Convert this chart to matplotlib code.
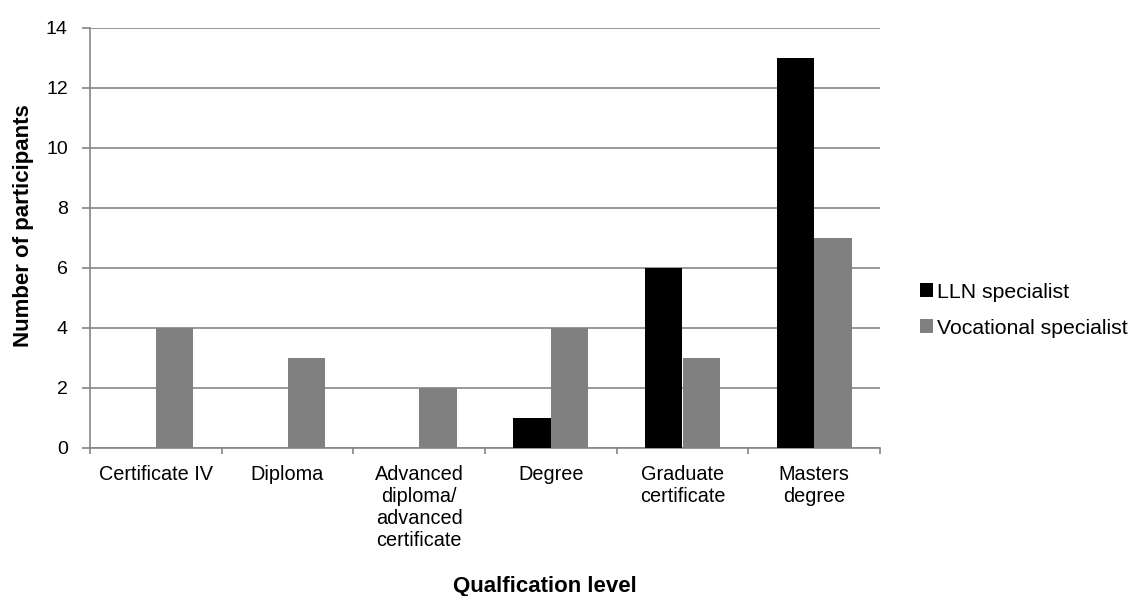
import numpy as np
import matplotlib
matplotlib.use("Agg")
import matplotlib.pyplot as plt

categories = ["Certificate IV", "Diploma", "Advanced\ndiploma/\nadvanced\ncertificate",
              "Degree", "Graduate\ncertificate", "Masters\ndegree"]
lln = [0, 0, 0, 1, 6, 13]
vocational = [4, 3, 2, 4, 3, 7]
series_names = ["LLN specialist", "Vocational specialist"]

plt.rcParams['font.family'] = ['Liberation Sans', 'DejaVu Sans']
axis_grey = "#868686"

fig = plt.figure(figsize=(11.32, 5.96), dpi=100)
fig.subplots_adjust(left=90/1132, right=880/1132, top=1-28/596, bottom=1-448/596)
ax = fig.add_subplot(111)

x = np.arange(len(categories))
w = 1 / 3.5
ax.bar(x - w/2, lln, w, color="#000000", label=series_names[0], zorder=3)
ax.bar(x + w/2, vocational, w, color="#808080", label=series_names[1], zorder=3)

ax.set_xlim(-0.5, len(categories) - 0.5)
ax.set_ylim(0, 14)
ax.set_yticks(range(0, 15, 2))
ax.yaxis.grid(True, color=axis_grey, linewidth=1.2, zorder=0)

ax.set_xticks(x)
ax.set_xticklabels(categories, fontsize=14.3, linespacing=1.2, va="top")
ax.set_xticks(np.arange(-0.5, len(categories)), minor=True)
ax.tick_params(axis="x", which="major", length=0, pad=12)
ax.tick_params(axis="x", which="minor", length=4, color=axis_grey, width=1.2)
ax.tick_params(axis="y", length=6, color=axis_grey, width=1.2, pad=10, labelsize=14)

for s in ["top", "right"]:
    ax.spines[s].set_visible(False)
for s in ["left", "bottom"]:
    ax.spines[s].set_color(axis_grey)
    ax.spines[s].set_linewidth(1.2)

ax.set_ylabel("Number of participants", fontsize=16, fontweight="bold", va="center")
ax.yaxis.set_label_coords(-(90 - 24) / 790, (448 - 226) / 420)
ax.set_xlabel("Qualfication level", fontsize=16, fontweight="bold", va="top")
ax.xaxis.set_label_coords((545 - 90) / 790, -(576 - 448) / 420)

ax.legend(loc="center left", bbox_to_anchor=(920/1132, 1 - 310/596),
          bbox_transform=fig.transFigure, frameon=False, fontsize=15.3,
          handlelength=0.6, handleheight=0.6, handletextpad=0.2,
          labelspacing=0.8, borderpad=0, borderaxespad=0)

fig.savefig("out.png", dpi=100)
